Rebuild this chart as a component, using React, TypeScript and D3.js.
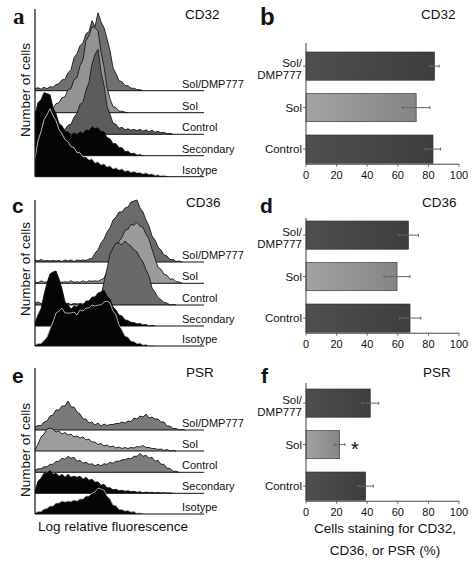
import React from "react";
import * as d3 from "d3";

// ---------- DATA ----------
// histogram bins: channel = index * 3 (0..150), heights in count units
const conditions = ["Sol/DMP777", "Sol", "Control", "Secondary", "Isotype"];

// CD32 (panel a)
const cd32SolDmp = [2, 3, 1.5, 3.5, 2, 4, 3.5, 6, 7, 11, 11, 18, 21, 33, 37, 45, 48, 57, 59, 70, 64, 78, 69, 63, 52, 40, 23, 17, 10, 9, 5, 5, 2.5, 2.5, 1, 1, 0];
const cd32Sol = [1, 2, 0.5, 2, 1.5, 3.5, 4.5, 9, 10, 15, 16, 23, 24, 33, 35, 47, 53, 72, 77, 86, 85, 82, 61, 46, 25, 14, 6, 5, 1.5, 1.5, 0.5, 0];
const cd32Control = [0, 0, 0.5, 1, 0.5, 1, 0.5, 1.5, 2, 4.5, 5, 9, 10, 17, 21, 30, 32, 44, 52, 70, 80, 85, 62, 49, 28, 20, 11, 10, 6, 7, 4.5, 5.5, 4, 5, 3.5, 5, 3, 4.5, 2.5, 4, 2, 3, 1.5, 2, 0.5, 1, 0];
const cd32Secondary = [40, 53, 56, 63, 62, 61, 48, 42, 32, 30, 24, 24, 20, 23, 21, 24, 22, 26, 25, 29, 27, 28, 24, 24, 18, 17, 12, 12, 8, 8, 4, 4.5, 2, 2.5, 0.5, 1, 0];
const cd32Isotype = [18, 36, 45, 57, 62, 68, 61, 56, 47, 43, 37, 35, 30, 29, 24, 24, 20, 20, 17, 18, 14, 15, 12, 13, 10, 11, 8, 9, 7, 8, 5.5, 6.5, 4.5, 5.5, 4, 4.5, 3, 4, 2.5, 3, 1.5, 2, 1, 1.5, 0.5, 0];

// CD36 (panel c)
const cd36SolDmp = [2, 1, 2.5, 1, 1.5, 1, 1.5, 1, 1.5, 0.5, 2, 1, 2, 0.5, 2, 1.5, 2, 1.5, 3, 3.5, 9, 12, 19, 23, 30, 34, 42, 45, 50, 50, 54, 55, 60, 61, 62, 54, 50, 42, 36, 26, 22, 15, 12, 7, 6, 2.5, 2.5, 0.5, 1, 0];
const cd36Sol = [1.5, 0.5, 2.5, 1, 1.5, 1, 2.5, 1, 1.5, 1, 1.5, 1, 2.5, 1, 1.5, 1, 2.5, 1, 2.5, 2, 2.5, 2, 3.5, 5, 12, 16, 25, 31, 42, 46, 53, 54, 59, 58, 61, 57, 56, 49, 44, 34, 25, 16, 14, 9, 8, 4, 4.5, 1.5, 1.5, 0];
const cd36Control = [2, 3, 1.5, 2, 0.5, 2, 0.5, 2, 0.5, 2, 0.5, 2, 0.5, 1.5, 1, 1.5, 1, 1.5, 1.5, 2, 1.5, 3.5, 9, 23, 36, 51, 57, 62, 62, 60, 64, 61, 59, 55, 53, 47, 43, 35, 29, 17, 13, 7, 5.5, 2.5, 2, 0, 0.5, 0];
const cd36Secondary = [3, 11, 17, 31, 43, 52, 54, 55, 47, 37, 24, 21, 17, 20, 19, 22, 21, 25, 25, 29, 29, 33, 34, 36, 30, 27, 19, 16, 11, 10, 6, 5.5, 3.5, 3.5, 2, 2.5, 1, 1.5, 0, 0.5, 0];
const cd36Isotype = [1, 2.5, 2.5, 5.5, 9, 17, 24, 33, 35, 38, 33, 33, 33, 34, 31, 36, 35, 38, 38, 41, 40, 41, 41, 44, 45, 43, 35, 31, 21, 16, 10, 9, 5, 4.5, 2.5, 3, 1, 1.5, 0, 0.5, 0];

// PSR (panel e)
const psrSolDmp = [3, 4.5, 4.5, 8, 9, 14, 15, 20, 20, 24, 24, 29, 23, 23, 18, 16, 11, 11, 7, 8, 5, 7, 4, 6, 4.5, 5.5, 5.5, 6.5, 6.5, 8, 7, 9, 8.5, 12, 11, 14, 13, 16, 12, 13, 11, 11, 8, 8, 4, 4, 1.5, 1.5, 0, 0.5, 0];
const psrSol = [1, 7, 14, 17, 22, 23, 22, 19, 20, 17, 18.5, 16, 17, 14, 15, 13, 14, 11, 12, 9, 9, 6.5, 7.5, 5, 6, 4, 5, 3, 4, 2.5, 3.5, 2.5, 3.5, 3, 4.5, 4, 5.5, 3.5, 3.5, 2.5, 2.5, 1.5, 2, 0.5, 1.5, 0, 0.5, 0];
const psrControl = [2, 3.5, 3.5, 5.5, 5.5, 8, 8, 11, 11, 14, 13, 16, 14, 15, 11, 12, 9, 10, 8, 8.5, 6.5, 8, 6.5, 8.5, 8, 10, 9, 11, 11, 12.5, 12.5, 14, 13.5, 16, 16, 19, 16, 17, 14, 15, 11, 12, 8, 8, 4, 4, 1, 1, 0];
const psrSecondary = [2, 12, 15, 20, 20, 23, 19, 20, 17, 19, 16, 19, 16, 17, 16, 17, 14, 16, 13, 14, 11, 11.5, 8, 9, 5.5, 5.5, 3.5, 4, 2.5, 3, 2, 2.5, 1.5, 2, 1, 1.5, 0.5, 1.2, 0.6, 1, 0.4, 0.8, 0.3, 0.6, 0.2, 0.4, 0];
const psrIsotype = [1, 2.5, 2.5, 5, 5.5, 8, 8, 11, 11, 13, 12, 13, 12.5, 14, 13, 15, 15, 18, 18, 21, 22, 26, 25, 24, 18, 15, 9, 8.5, 4.5, 4.5, 3, 3.5, 2, 2.5, 0.5, 1, 0];

// bar charts
const barCategories = ["Sol/DMP777", "Sol", "Control"];
const barTicks = [0, 20, 40, 60, 80, 100];
const cd32Means = [84, 72, 83];
const cd32Errors = [3, 9, 5];
const cd36Means = [67, 59.5, 68];
const cd36Errors = [6.5, 8.5, 7];
const psrMeans = [42, 22, 39];
const psrErrors = [5.5, 3.5, 5];

// ---------- STYLE ----------
const SANS = "'Liberation Sans', Arial, Helvetica, sans-serif";
const SERIF = "'Liberation Serif', 'Times New Roman', serif";

const chX = d3.scaleLinear().domain([0, 150]).range([35, 185]);
const hY = d3.scaleLinear().domain([0, 100]).range([0, 100]);

type HistProps = {
  series: number[][];
  baselines: number[];
  fills: string[];
  strokes: string[];
  axisTop: number;
};

function HistPanel({ series, baselines, fills, strokes, axisTop }: HistProps) {
  return (
    <g>
      {series.map((s, i) => {
        const b = baselines[i];
        const area = d3
          .area<number>()
          .x((_, j) => chX(j * 3))
          .y0(b)
          .y1((d) => b - hY(d));
        const line = d3
          .line<number>()
          .x((_, j) => chX(j * 3))
          .y((d) => b - hY(d));
        return (
          <g key={i}>
            <path d={area(s) || ""} fill={fills[i]} />
            <path d={line(s) || ""} fill="none" stroke={strokes[i]} strokeWidth={0.9} />
            <line x1={35} x2={204} y1={b} y2={b} stroke="#111" strokeWidth={1} />
            <text x={182} y={b - 3} fontFamily={SANS} fontSize={11} fill="#111">
              {conditions[i]}
            </text>
          </g>
        );
      })}
      <line x1={35} x2={35} y1={axisTop} y2={baselines[4]} stroke="#111" strokeWidth={1.2} />
    </g>
  );
}

type BarProps = {
  means: number[];
  errors: number[];
  barTop: number;
  axisTop: number;
  star?: boolean;
};

const barX = d3.scaleLinear().domain([0, 100]).range([306, 459]);

function BarPanel({ means, errors, barTop, axisTop, star }: BarProps) {
  const step = 41.5;
  const start = barTop - 0.16 * step;
  const y = d3
    .scaleBand<string>()
    .domain(barCategories)
    .range([start, start + 3 * step])
    .paddingInner(0.32)
    .paddingOuter(0.16);
  const bw = y.bandwidth();
  const bottom = (y("Control") as number) + bw;
  const axisY = bottom + 1;
  return (
    <g>
      {barCategories.map((c, i) => {
        const y0 = y(c) as number;
        const cy = y0 + bw / 2;
        const lo = barX(means[i] - errors[i]);
        const hi = barX(means[i] + errors[i]);
        return (
          <g key={c}>
            <rect
              x={barX(0)}
              y={y0}
              width={barX(means[i]) - barX(0)}
              height={bw}
              fill={i === 1 ? "url(#gLight)" : "url(#gDark)"}
              stroke="#2a2a2a"
              strokeWidth={0.6}
            />
            <line x1={lo} x2={hi} y1={cy} y2={cy} stroke="#666" strokeWidth={1} />
            <line x1={lo} x2={lo} y1={cy - 1.5} y2={cy + 1.5} stroke="#666" strokeWidth={1} />
            <line x1={hi} x2={hi} y1={cy - 1.5} y2={cy + 1.5} stroke="#666" strokeWidth={1} />
            <line x1={barX(0) - 3} x2={barX(0)} y1={cy} y2={cy} stroke="#444" strokeWidth={0.8} />
            {c === "Sol/DMP777" ? (
              <text x={302} y={cy + 1} textAnchor="end" fontFamily={SANS} fontSize={11.5} fill="#111">
                <tspan x={302}>Sol/</tspan>
                <tspan x={302} dy={11.5}>DMP777</tspan>
              </text>
            ) : (
              <text x={302} y={cy + 4} textAnchor="end" fontFamily={SANS} fontSize={11.5} fill="#111">
                {c}
              </text>
            )}
            {star && c === "Sol" ? (
              <text x={hi + 6} y={cy + 11.5} fontFamily={SANS} fontSize={20} fill="#111">
                *
              </text>
            ) : null}
          </g>
        );
      })}
      <line x1={barX(0)} x2={barX(0)} y1={axisTop} y2={axisY} stroke="#444" strokeWidth={1} />
      <line x1={barX(0)} x2={barX(100)} y1={axisY} y2={axisY} stroke="#444" strokeWidth={1} />
      {barTicks.map((t) => (
        <g key={t}>
          <line x1={barX(t)} x2={barX(t)} y1={axisY} y2={axisY + 2.5} stroke="#444" strokeWidth={0.8} />
          <text x={barX(t)} y={axisY + 14.5} textAnchor="middle" fontFamily={SANS} fontSize={11} fill="#111">
            {t}
          </text>
        </g>
      ))}
    </g>
  );
}

export default function App() {
  return (
    <svg
      width={472}
      height={564}
      viewBox="0 0 472 564"
      style={{ position: "absolute", left: 0, top: 0, background: "#fff" }}
    >
      <defs>
        <linearGradient id="gDark" x1="0" x2="1" y1="0" y2="0">
          <stop offset="0" stopColor="#4f4f4f" />
          <stop offset="1" stopColor="#3e3e3e" />
        </linearGradient>
        <linearGradient id="gLight" x1="0" x2="1" y1="0" y2="0">
          <stop offset="0" stopColor="#a3a3a3" />
          <stop offset="1" stopColor="#858585" />
        </linearGradient>
      </defs>
      <rect x={0} y={0} width={472} height={564} fill="#fff" />

      {/* panel letters */}
      <text x={13} y={24} fontFamily={SERIF} fontWeight="bold" fontSize={23} fill="#111">a</text>
      <text x={260} y={25} fontFamily={SANS} fontWeight="bold" fontSize={24} fill="#111">b</text>
      <text x={12} y={213} fontFamily={SANS} fontWeight="bold" fontSize={21} fill="#111">c</text>
      <text x={260} y={213} fontFamily={SANS} fontWeight="bold" fontSize={21} fill="#111">d</text>
      <text x={12} y={383} fontFamily={SANS} fontWeight="bold" fontSize={21} fill="#111">e</text>
      <text x={261} y={383} fontFamily={SANS} fontWeight="bold" fontSize={21} fill="#111">f</text>

      {/* titles */}
      <text x={185} y={19} fontFamily={SANS} fontSize={13.5} fill="#111">CD32</text>
      <text x={421} y={19} fontFamily={SANS} fontSize={13.5} fill="#111">CD32</text>
      <text x={186} y={207} fontFamily={SANS} fontSize={13.5} fill="#111">CD36</text>
      <text x={422} y={207} fontFamily={SANS} fontSize={13.5} fill="#111">CD36</text>
      <text x={186} y={377} fontFamily={SANS} fontSize={13.5} fill="#111">PSR</text>
      <text x={423} y={377} fontFamily={SANS} fontSize={13.5} fill="#111">PSR</text>

      {/* y-axis labels */}
      {[90, 269, 450].map((cy) => (
        <text
          key={cy}
          transform={`translate(30,${cy}) rotate(-90)`}
          textAnchor="middle"
          fontFamily={SANS}
          fontSize={13.5}
          fill="#111"
        >
          Number of cells
        </text>
      ))}

      <HistPanel
        series={[cd32SolDmp, cd32Sol, cd32Control, cd32Secondary, cd32Isotype]}
        baselines={[90.7, 112.7, 134.3, 155.7, 176.7]}
        fills={["#707070", "#939393", "#5c5c5c", "#050505", "#050505"]}
        strokes={["#1a1a1a", "#1a1a1a", "#1a1a1a", "#111", "#c8c8c8"]}
        axisTop={9}
      />
      <HistPanel
        series={[cd36SolDmp, cd36Sol, cd36Control, cd36Secondary, cd36Isotype]}
        baselines={[262, 283.3, 305, 326, 346]}
        fills={["#6a6a6a", "#9b9b9b", "#696969", "#050505", "#050505"]}
        strokes={["#1a1a1a", "#1a1a1a", "#1a1a1a", "#111", "#b8b8b8"]}
        axisTop={200}
      />
      <HistPanel
        series={[psrSolDmp, psrSol, psrControl, psrSecondary, psrIsotype]}
        baselines={[430, 451, 472.3, 493.3, 514]}
        fills={["#7a7a7a", "#9c9c9c", "#7c7c7c", "#050505", "#050505"]}
        strokes={["#1a1a1a", "#1a1a1a", "#1a1a1a", "#111", "#a8a8a8"]}
        axisTop={368}
      />

      <text x={113} y={531} textAnchor="middle" fontFamily={SANS} fontSize={13.5} fill="#111">
        Log relative fluorescence
      </text>

      <BarPanel means={cd32Means} errors={cd32Errors} barTop={52} axisTop={43} />
      <BarPanel means={cd36Means} errors={cd36Errors} barTop={221} axisTop={218} />
      <BarPanel means={psrMeans} errors={psrErrors} barTop={389} axisTop={383} star />

      <text x={385} y={533} textAnchor="middle" fontFamily={SANS} fontSize={13.5} fill="#111">
        Cells staining for CD32,
      </text>
      <text x={385} y={555} textAnchor="middle" fontFamily={SANS} fontSize={13.5} fill="#111">
        CD36, or PSR (%)
      </text>
    </svg>
  );
}
